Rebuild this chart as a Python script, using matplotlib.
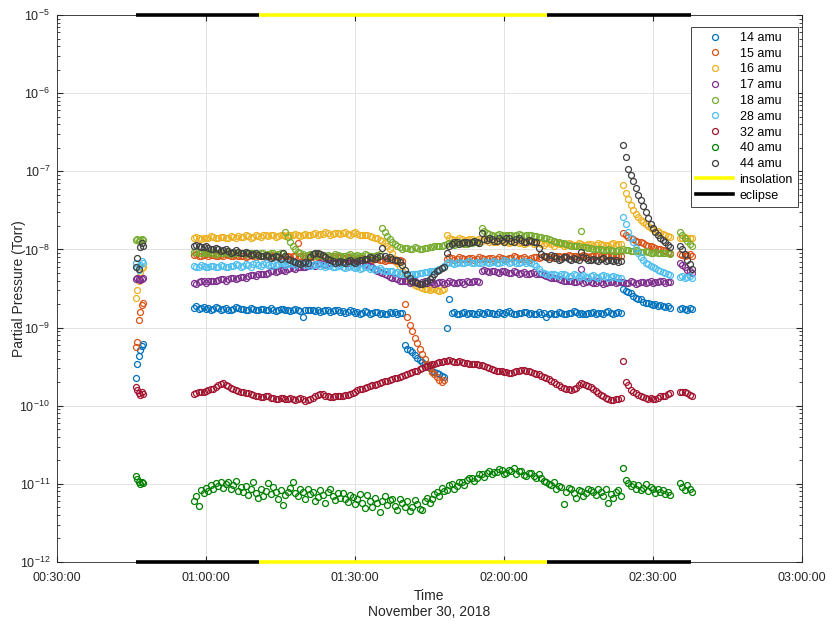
import matplotlib.pyplot as plt
import numpy as np
from matplotlib.lines import Line2D
from matplotlib.ticker import FuncFormatter, LogLocator, NullFormatter

plt.rcParams['font.family'] = ['Liberation Sans', 'DejaVu Sans']

# sample times in minutes after 00:00 (start-up burst, main run, transient, last burst)
t_a = [45.9, 46.2, 46.5, 46.8, 47.1, 47.4]
t_main = np.arange(57.5, 143.75, 0.5)
t_tr = np.arange(144.0, 153.75, 0.5)
t_late = [155.4, 155.9, 156.4, 156.9, 157.4, 157.9]
t = np.concatenate([t_a, t_main, t_tr, t_late])

# log10 of partial pressure (Torr)
amu14 = [-9.64, -9.47, -9.36, -9.29, -9.24, -9.21,
         -8.75, -8.73, -8.76, -8.75, -8.74, -8.76, -8.75, -8.77, -8.76, -8.74,
         -8.75, -8.77, -8.76, -8.75, -8.77, -8.78, -8.76, -8.74, -8.75, -8.76,
         -8.76, -8.78, -8.77, -8.75, -8.76, -8.78, -8.77, -8.76, -8.76, -8.78,
         -8.77, -8.75, -8.78, -8.79, -8.77, -8.76, -8.76, -8.78, -8.77, -8.79,
         -8.78, -8.76, -8.77, -8.79, -8.87, -8.78, -8.78, -8.77, -8.77, -8.79,
         -8.78, -8.80, -8.79, -8.77, -8.78, -8.80, -8.79, -8.78, -8.78, -8.80,
         -8.79, -8.81, -8.80, -8.78, -8.79, -8.81, -8.80, -8.82, -8.81, -8.79,
         -8.80, -8.82, -8.81, -8.80, -8.80, -8.82, -8.81, -8.83, -8.82, -8.80,
         -8.81, -8.80, -8.82, -8.81, -8.81, -9.22, -9.27, -9.29, -9.31, -9.35,
         -9.39, -9.42, -9.44, -9.47, -9.49, -9.52, -9.55, -9.57, -9.58, -9.60,
         -9.62, -9.63, -9.01, -8.64, -8.81, -8.80, -8.82, -8.83, -8.81, -8.80,
         -8.82, -8.81, -8.81, -8.83, -8.82, -8.80, -8.81, -8.82, -8.80, -8.81,
         -8.81, -8.83, -8.82, -8.80, -8.81, -8.82, -8.80, -8.79, -8.81, -8.83,
         -8.82, -8.81, -8.81, -8.80, -8.80, -8.82, -8.81, -8.83, -8.82, -8.80,
         -8.82, -8.81, -8.87, -8.82, -8.81, -8.83, -8.82, -8.80, -8.81, -8.82,
         -8.82, -8.81, -8.81, -8.79, -8.80, -8.82, -8.81, -8.83, -8.82, -8.81,
         -8.81, -8.80, -8.82, -8.81, -8.81, -8.83, -8.80, -8.79, -8.81, -8.82,
         -8.81, -8.80, -8.81,
         -8.50, -8.53, -8.55, -8.56, -8.59, -8.62, -8.63, -8.64, -8.67, -8.69,
         -8.69, -8.70, -8.71, -8.70, -8.72, -8.71, -8.73, -8.74, -8.73, -8.75,
         -8.76, -8.75, -8.76, -8.77, -8.75, -8.76]
amu15 = [-9.25, -9.19, -8.90, -8.80, -8.71, -8.68,
         -8.07, -8.06, -8.08, -8.09, -8.07, -8.06, -8.08, -8.07, -8.07, -8.09,
         -8.08, -8.07, -8.08, -8.06, -8.07, -8.09, -8.08, -8.07, -8.09, -8.08,
         -8.08, -8.10, -8.09, -8.07, -8.08, -8.10, -8.09, -8.08, -8.08, -8.10,
         -8.09, -8.07, -8.08, -8.09, -8.09, -8.11, -8.10, -8.08, -8.09, -8.10,
         -8.08, -8.09, -7.92, -8.08, -8.09, -8.11, -8.10, -8.09, -8.09, -8.11,
         -8.10, -8.08, -8.09, -8.10, -8.10, -8.12, -8.11, -8.09, -8.10, -8.11,
         -8.11, -8.12, -8.10, -8.11, -8.11, -8.13, -8.12, -8.11, -8.11, -8.13,
         -8.12, -8.14, -8.13, -8.12, -8.12, -8.14, -8.13, -8.15, -8.14, -8.13,
         -8.14, -8.15, -8.15, -8.14, -8.15, -8.70, -8.87, -8.97, -9.05, -9.13,
         -9.20, -9.27, -9.34, -9.40, -9.46, -9.52, -9.57, -9.60, -9.63, -9.67,
         -9.70, -9.67, -8.12, -8.10, -8.11, -8.13, -8.12, -8.10, -8.11, -8.12,
         -8.12, -8.11, -8.11, -8.13, -8.12, -8.10, -8.11, -8.12, -8.12, -8.11,
         -8.11, -8.13, -8.12, -8.10, -8.11, -8.12, -8.12, -8.11, -8.11, -8.09,
         -8.10, -8.12, -8.11, -8.10, -8.12, -8.13, -8.11, -8.10, -8.10, -8.11,
         -8.10, -8.08, -8.09, -8.10, -8.10, -8.11, -8.09, -8.08, -8.10, -8.09,
         -8.09, -8.07, -8.08, -8.09, -8.09, -8.10, -8.08, -8.07, -8.09, -8.10,
         -8.08, -8.09, -8.09, -8.07, -8.08, -8.10, -8.09, -8.08, -8.08, -8.07,
         -8.08, -8.09, -8.09,
         -7.79, -7.82, -7.84, -7.85, -7.87, -7.89, -7.90, -7.91, -7.92, -7.94,
         -7.95, -7.96, -7.97, -7.98, -7.99, -8.00, -8.01, -8.02, -8.03, -8.04,
         -8.06, -8.07, -8.08, -8.07, -8.06, -8.08]
amu16 = [-8.62, -8.52, -8.40, -8.29, -8.24, -8.22,
         -7.86, -7.84, -7.85, -7.87, -7.86, -7.85, -7.85, -7.83, -7.84, -7.86,
         -7.85, -7.84, -7.84, -7.86, -7.85, -7.83, -7.84, -7.85, -7.83, -7.84,
         -7.84, -7.82, -7.83, -7.85, -7.84, -7.82, -7.83, -7.84, -7.82, -7.81,
         -7.83, -7.82, -7.82, -7.84, -7.83, -7.81, -7.82, -7.83, -7.81, -7.82,
         -7.82, -7.80, -7.81, -7.83, -7.82, -7.80, -7.81, -7.82, -7.80, -7.79,
         -7.81, -7.80, -7.80, -7.78, -7.79, -7.81, -7.80, -7.79, -7.79, -7.80,
         -7.79, -7.78, -7.80, -7.81, -7.79, -7.78, -7.80, -7.81, -7.81, -7.82,
         -7.82, -7.83, -7.84, -7.85, -7.86, -7.88, -7.89, -7.92, -7.95, -8.00,
         -8.05, -8.12, -8.18, -8.23, -8.28, -8.32, -8.36, -8.40, -8.43, -8.45,
         -8.47, -8.48, -8.49, -8.51, -8.50, -8.52, -8.51, -8.50, -8.52, -8.53,
         -8.52, -8.51, -7.81, -7.86, -7.87, -7.88, -7.88, -7.86, -7.87, -7.89,
         -7.88, -7.87, -7.87, -7.89, -7.88, -7.87, -7.89, -7.88, -7.88, -7.90,
         -7.89, -7.91, -7.90, -7.88, -7.89, -7.91, -7.90, -7.92, -7.91, -7.90,
         -7.90, -7.92, -7.91, -7.93, -7.92, -7.91, -7.91, -7.93, -7.92, -7.91,
         -7.93, -7.94, -7.92, -7.91, -7.93, -7.95, -7.92, -7.93, -7.93, -7.95,
         -7.94, -7.92, -7.93, -7.94, -7.94, -7.92, -7.93, -7.95, -7.94, -7.93,
         -7.93, -7.95, -7.94, -7.92, -7.93, -7.94, -7.94, -7.95, -7.93, -7.92,
         -7.94, -7.93, -7.93,
         -7.18, -7.28, -7.36, -7.43, -7.49, -7.55, -7.59, -7.62, -7.65, -7.68,
         -7.70, -7.72, -7.74, -7.76, -7.77, -7.79, -7.80, -7.81, -7.83, -7.84,
         -7.85, -7.86, -7.84, -7.85, -7.86, -7.85]
amu17 = [-8.38, -8.37, -8.38, -8.39, -8.38, -8.37,
         -8.43, -8.44, -8.42, -8.41, -8.41, -8.43, -8.41, -8.40, -8.40, -8.41,
         -8.39, -8.38, -8.38, -8.40, -8.38, -8.37, -8.37, -8.38, -8.36, -8.35,
         -8.35, -8.36, -8.34, -8.33, -8.33, -8.34, -8.32, -8.31, -8.31, -8.32,
         -8.30, -8.28, -8.28, -8.29, -8.27, -8.26, -8.26, -8.27, -8.25, -8.24,
         -8.24, -8.25, -8.23, -8.22, -8.22, -8.23, -8.21, -8.20, -8.20, -8.21,
         -8.19, -8.18, -8.19, -8.20, -8.18, -8.17, -8.17, -8.18, -8.17, -8.16,
         -8.16, -8.17, -8.17, -8.15, -8.16, -8.18, -8.17, -8.18, -8.18, -8.19,
         -8.20, -8.21, -8.23, -8.25, -8.27, -8.29, -8.30, -8.32, -8.33, -8.35,
         -8.36, -8.37, -8.38, -8.40, -8.40, -8.41, -8.41, -8.43, -8.42, -8.41,
         -8.43, -8.44, -8.42, -8.41, -8.43, -8.42, -8.42, -8.44, -8.43, -8.42,
         -8.42, -8.44, -8.43, -8.41, -8.42, -8.43, -8.43, -8.42, -8.42, -8.44,
         -8.41, -8.42, -8.42, -8.40, -8.41, -8.42, -8.27, -8.26, -8.28, -8.29,
         -8.28, -8.27, -8.29, -8.30, -8.28, -8.27, -8.29, -8.30, -8.30, -8.28,
         -8.29, -8.31, -8.30, -8.29, -8.31, -8.32, -8.30, -8.29, -8.31, -8.32,
         -8.32, -8.33, -8.34, -8.35, -8.36, -8.36, -8.37, -8.38, -8.39, -8.40,
         -8.40, -8.41, -8.41, -8.42, -8.42, -8.41, -8.25, -8.43, -8.42, -8.41,
         -8.42, -8.43, -8.43, -8.41, -8.42, -8.44, -8.43, -8.42, -8.42, -8.41,
         -8.43, -8.42, -8.42,
         -8.42, -8.43, -8.43, -8.41, -8.42, -8.44, -8.43, -8.42, -8.42, -8.43,
         -8.42, -8.41, -8.43, -8.42, -8.42, -8.41, -8.41, -8.43, -8.42, -8.42,
         -8.18, -8.20, -8.23, -8.26, -8.28, -8.30]
amu18 = [-7.88, -7.87, -7.89, -7.88, -7.87, -7.88,
         -8.03, -8.02, -8.04, -8.05, -8.03, -8.04, -8.04, -8.03, -8.04, -8.06,
         -8.05, -8.04, -8.04, -8.03, -8.05, -8.06, -8.04, -8.05, -8.05, -8.04,
         -8.05, -8.06, -8.04, -8.05, -8.05, -8.07, -8.06, -8.05, -8.05, -8.07,
         -8.06, -8.05, -8.05, -8.07, -8.06, -8.05, -8.05, -7.78, -7.84, -7.90,
         -7.95, -7.99, -8.03, -8.05, -8.06, -8.08, -8.07, -8.06, -8.06, -8.08,
         -8.07, -8.06, -8.08, -8.09, -8.07, -8.08, -8.08, -8.06, -8.07, -8.08,
         -8.08, -8.09, -8.07, -8.06, -8.08, -8.09, -8.07, -8.08, -8.08, -8.06,
         -8.07, -8.08, -8.08, -8.09, -8.07, -8.06, -7.73, -7.78, -7.83, -7.87,
         -7.90, -7.93, -7.96, -7.97, -7.99, -7.98, -7.98, -8.00, -7.99, -7.97,
         -7.98, -8.00, -7.99, -7.98, -7.98, -7.97, -7.97, -7.96, -7.96, -7.95,
         -7.95, -7.94, -7.93, -7.92, -7.92, -7.94, -7.93, -7.91, -7.92, -7.93,
         -7.93, -7.92, -7.92, -7.90, -7.91, -7.92, -7.73, -7.76, -7.79, -7.80,
         -7.81, -7.83, -7.82, -7.80, -7.81, -7.83, -7.82, -7.81, -7.81, -7.83,
         -7.82, -7.80, -7.81, -7.83, -7.82, -7.81, -7.82, -7.83, -7.83, -7.84,
         -7.84, -7.85, -7.86, -7.87, -7.88, -7.89, -7.90, -7.91, -7.92, -7.92,
         -7.93, -7.94, -7.95, -7.95, -7.96, -7.96, -7.76, -7.97, -7.97, -7.98,
         -7.98, -7.99, -7.99, -8.00, -8.00, -8.01, -8.01, -8.00, -8.01, -8.02,
         -8.02, -8.01, -8.02,
         -8.00, -8.01, -8.01, -8.02, -8.02, -8.01, -8.02, -8.03, -8.03, -8.02,
         -8.03, -8.04, -8.04, -8.03, -8.04, -8.05, -8.05, -8.04, -8.05, -8.06,
         -7.78, -7.82, -7.86, -7.89, -7.93, -7.96]
amu28 = [-8.17, -8.22, -8.26, -8.20, -8.15, -8.18,
         -8.21, -8.23, -8.22, -8.20, -8.21, -8.23, -8.22, -8.21, -8.21, -8.23,
         -8.22, -8.20, -8.21, -8.23, -8.22, -8.21, -8.21, -8.19, -8.20, -8.22,
         -8.21, -8.19, -8.20, -8.22, -8.19, -8.18, -8.20, -8.21, -8.19, -8.18,
         -8.20, -8.21, -8.19, -8.20, -8.19, -8.17, -8.18, -8.20, -8.19, -8.18,
         -8.18, -8.20, -8.19, -8.17, -8.18, -8.20, -8.19, -8.21, -8.20, -8.19,
         -8.19, -8.21, -8.20, -8.22, -8.21, -8.20, -8.22, -8.23, -8.21, -8.20,
         -8.22, -8.24, -8.23, -8.21, -8.22, -8.24, -8.23, -8.25, -8.24, -8.22,
         -8.23, -8.25, -8.24, -8.26, -8.25, -8.24, -8.26, -8.27, -8.27, -8.28,
         -8.28, -8.30, -8.29, -8.31, -8.30, -8.32, -8.31, -8.33, -8.32, -8.31,
         -8.31, -8.30, -8.30, -8.29, -8.29, -8.28, -8.28, -8.27, -8.26, -8.25,
         -8.24, -8.21, -8.18, -8.16, -8.17, -8.19, -8.18, -8.16, -8.17, -8.18,
         -8.16, -8.15, -8.17, -8.18, -8.16, -8.17, -8.17, -8.15, -8.16, -8.18,
         -8.16, -8.15, -8.17, -8.18, -8.16, -8.14, -8.15, -8.17, -8.16, -8.15,
         -8.17, -8.18, -8.16, -8.15, -8.17, -8.16, -8.18, -8.19, -8.21, -8.25,
         -8.29, -8.30, -8.31, -8.33, -8.32, -8.31, -8.33, -8.34, -8.32, -8.31,
         -8.33, -8.35, -8.34, -8.32, -8.33, -8.35, -8.34, -8.33, -8.35, -8.36,
         -8.34, -8.33, -8.35, -8.36, -8.34, -8.33, -8.34, -8.36, -8.35, -8.34,
         -8.35, -8.37, -8.36,
         -7.59, -7.68, -7.78, -7.85, -7.91, -7.98, -8.04, -8.10, -8.14, -8.17,
         -8.19, -8.21, -8.23, -8.24, -8.26, -8.28, -8.29, -8.30, -8.32, -8.33,
         -8.35, -8.34, -8.36, -8.35, -8.34, -8.36]
amu32 = [-9.76, -9.80, -9.84, -9.86, -9.83, -9.85,
         -9.85, -9.84, -9.83, -9.83, -9.82, -9.81, -9.80, -9.79, -9.78, -9.76,
         -9.74, -9.72, -9.71, -9.73, -9.75, -9.77, -9.79, -9.80, -9.81, -9.82,
         -9.83, -9.84, -9.84, -9.85, -9.86, -9.87, -9.88, -9.89, -9.89, -9.87,
         -9.88, -9.90, -9.90, -9.92, -9.91, -9.90, -9.90, -9.92, -9.91, -9.90,
         -9.92, -9.93, -9.91, -9.90, -9.92, -9.94, -9.93, -9.92, -9.90, -9.88,
         -9.86, -9.85, -9.85, -9.87, -9.88, -9.89, -9.89, -9.87, -9.88, -9.87,
         -9.87, -9.86, -9.86, -9.85, -9.84, -9.82, -9.80, -9.79, -9.78, -9.77,
         -9.76, -9.75, -9.74, -9.73, -9.72, -9.71, -9.70, -9.69, -9.68, -9.67,
         -9.66, -9.65, -9.64, -9.63, -9.62, -9.61, -9.60, -9.58, -9.57, -9.56,
         -9.55, -9.53, -9.52, -9.50, -9.49, -9.48, -9.47, -9.46, -9.45, -9.44,
         -9.44, -9.43, -9.43, -9.42, -9.43, -9.44, -9.44, -9.43, -9.44, -9.45,
         -9.45, -9.46, -9.46, -9.47, -9.47, -9.48, -9.48, -9.49, -9.50, -9.52,
         -9.53, -9.54, -9.55, -9.56, -9.56, -9.57, -9.57, -9.58, -9.58, -9.57,
         -9.56, -9.55, -9.54, -9.54, -9.55, -9.56, -9.57, -9.58, -9.59, -9.60,
         -9.62, -9.63, -9.65, -9.66, -9.68, -9.70, -9.72, -9.74, -9.76, -9.77,
         -9.78, -9.79, -9.80, -9.79, -9.77, -9.74, -9.71, -9.72, -9.73, -9.75,
         -9.76, -9.78, -9.81, -9.84, -9.86, -9.88, -9.90, -9.92, -9.93, -9.93,
         -9.92, -9.91, -9.90,
         -9.43, -9.70, -9.74, -9.80, -9.82, -9.84, -9.86, -9.88, -9.89, -9.90,
         -9.91, -9.90, -9.91, -9.92, -9.90, -9.88, -9.87, -9.88, -9.85, -9.84,
         -9.82, -9.83, -9.83, -9.84, -9.86, -9.87]
amu40 = [-10.90, -10.94, -10.97, -11.00, -10.98, -10.99,
         -11.22, -11.15, -11.28, -11.08, -11.12, -11.05, -11.09, -11.01, -11.06, -10.99,
         -11.03, -10.97, -11.05, -11.00, -10.98, -11.07, -11.02, -10.96, -11.09, -11.04,
         -11.10, -11.03, -11.14, -11.07, -10.97, -11.12, -11.18, -11.06, -11.15, -11.09,
         -10.99, -11.13, -11.04, -11.11, -11.20, -11.08, -11.27, -11.14, -11.10, -11.05,
         -10.98, -11.12, -11.16, -11.06, -11.11, -11.19, -11.06, -11.13, -11.10, -11.22,
         -11.17, -11.08, -11.14, -11.24, -11.11, -11.07, -11.16, -11.21, -11.12, -11.18,
         -11.12, -11.20, -11.23, -11.14, -11.17, -11.26, -11.19, -11.13, -11.25, -11.31,
         -11.14, -11.22, -11.30, -11.18, -11.24, -11.36, -11.22, -11.16, -11.27, -11.21,
         -11.20, -11.28, -11.33, -11.19, -11.24, -11.30, -11.22, -11.35, -11.30, -11.21,
         -11.26, -11.32, -11.33, -11.22, -11.18, -11.25, -11.20, -11.13, -11.10, -11.16,
         -11.05, -11.09, -11.08, -11.01, -11.00, -11.06, -11.03, -10.97, -10.98, -11.02,
         -10.95, -10.92, -10.92, -10.96, -10.93, -10.88, -10.88, -10.91, -10.86, -10.84,
         -10.88, -10.85, -10.85, -10.81, -10.82, -10.87, -10.86, -10.82, -10.83, -10.80,
         -10.87, -10.84, -10.84, -10.89, -10.90, -10.86, -10.86, -10.90, -10.92, -10.88,
         -10.93, -10.96, -10.97, -11.00, -11.02, -10.98, -11.06, -11.03, -11.04, -11.26,
         -11.10, -11.05, -11.07, -11.12, -11.18, -11.08, -11.09, -11.15, -11.12, -11.06,
         -11.08, -11.11, -11.14, -11.07, -11.10, -11.16, -11.06, -11.24, -11.13, -11.18,
         -11.11, -11.08, -11.15,
         -10.80, -10.95, -10.99, -11.03, -11.00, -11.06, -11.02, -11.08, -11.05, -11.00,
         -11.09, -11.04, -11.07, -11.12, -11.06, -11.10, -11.08, -11.13, -11.11, -11.14,
         -10.99, -11.04, -11.08, -11.02, -11.06, -11.10]
amu44 = [-8.23, -8.11, -8.25, -7.97, -7.92, -7.95,
         -7.96, -7.94, -7.95, -7.97, -7.97, -7.96, -7.98, -8.00, -7.99, -7.98,
         -8.00, -8.02, -8.01, -8.00, -8.02, -8.04, -8.03, -8.01, -8.03, -8.05,
         -8.04, -8.03, -8.05, -8.07, -8.06, -8.05, -8.07, -8.09, -8.08, -8.07,
         -8.09, -8.11, -8.10, -8.09, -8.10, -8.12, -8.04, -8.09, -8.12, -8.14,
         -8.15, -8.16, -8.17, -8.19, -8.18, -8.16, -8.17, -8.10, -8.06, -8.04,
         -8.05, -8.06, -8.07, -8.10, -8.12, -8.14, -8.15, -8.17, -8.16, -8.15,
         -8.16, -8.17, -8.15, -8.14, -8.16, -8.17, -8.15, -8.13, -8.14, -8.12,
         -8.12, -8.10, -8.11, -8.12, -8.10, -8.09, -7.98, -8.08, -8.11, -8.10,
         -8.12, -8.13, -8.14, -8.16, -8.20, -8.26, -8.32, -8.37, -8.40, -8.42,
         -8.43, -8.44, -8.44, -8.43, -8.41, -8.38, -8.35, -8.31, -8.28, -8.26,
         -8.24, -8.22, -8.04, -7.96, -7.93, -7.91, -7.91, -7.93, -7.92, -7.90,
         -7.90, -7.92, -7.91, -7.89, -7.90, -7.92, -7.79, -7.87, -7.88, -7.86,
         -7.87, -7.89, -7.89, -7.86, -7.88, -7.90, -7.86, -7.85, -7.89, -7.91,
         -7.87, -7.86, -7.88, -7.90, -7.90, -7.88, -7.89, -7.91, -7.91, -7.98,
         -8.06, -8.08, -8.10, -8.12, -8.07, -8.09, -8.11, -8.13, -8.12, -8.10,
         -8.10, -8.12, -8.13, -8.11, -8.12, -8.14, -8.03, -8.10, -8.11, -8.13,
         -8.13, -8.12, -8.14, -8.15, -8.12, -8.11, -8.15, -8.14, -8.13, -8.15,
         -8.14, -8.16, -8.15,
         -6.66, -6.82, -6.97, -7.05, -7.13, -7.22, -7.30, -7.37, -7.44, -7.52,
         -7.60, -7.67, -7.73, -7.78, -7.82, -7.85, -7.88, -7.91, -7.94, -7.97,
         -7.95, -8.00, -8.06, -8.13, -8.19, -8.25]

names = ['14 amu', '15 amu', '16 amu', '17 amu', '18 amu', '28 amu', '32 amu', '40 amu', '44 amu']
series = [amu14, amu15, amu16, amu17, amu18, amu28, amu32, amu40, amu44]
colors = ['#0072BD', '#D95319', '#EDB120', '#7E2F8E', '#77AC30', '#4DBEEE', '#A2142F', '#008000', '#404040']

# insolation / eclipse periods (minutes)
eclipse = [(45.9, 70.7), (128.6, 157.6)]
insolation = [(70.7, 128.6)]

fig = plt.figure(figsize=(8.33, 6.24), dpi=100)
ax = fig.add_axes([57 / 833, 1 - 562 / 624, 745 / 833, 547 / 624])

handles = []
for vals, c, n in zip(series, colors, names):
    assert len(vals) == len(t), (n, len(vals), len(t))
    h, = ax.plot(t, 10.0 ** np.array(vals), 'o', mfc='none', mec=c, ms=4.3, mew=0.9, label=n)
    handles.append(h)

for y in (1e-5, 1e-12):
    for a, b in insolation:
        ax.plot([a, b], [y, y], color='#FFFF00', lw=2.6, clip_on=False, solid_capstyle='butt', zorder=5)
    for a, b in eclipse:
        ax.plot([a, b], [y, y], color='black', lw=2.6, clip_on=False, solid_capstyle='butt', zorder=5)
handles.append(Line2D([], [], color='#FFFF00', lw=2.6))
handles.append(Line2D([], [], color='black', lw=2.6))
labels = names + ['insolation', 'eclipse']

ax.set_yscale('log')
ax.set_ylim(1e-12, 1e-5)
ax.set_xlim(30, 180)
ax.set_xticks([30, 60, 90, 120, 150, 180])
ax.xaxis.set_major_formatter(FuncFormatter(lambda v, p: '%02d:%02d:00' % (int(v) // 60, int(v) % 60)))
ax.yaxis.set_major_locator(LogLocator(base=10, numticks=20))
ax.yaxis.set_minor_locator(LogLocator(base=10, subs=np.arange(2, 10), numticks=20))
ax.yaxis.set_minor_formatter(NullFormatter())

ax.set_axisbelow(True)
ax.grid(True, which='major', color='#e3e3e3', lw=0.7)
ax.tick_params(which='both', direction='in', top=True, right=True, colors='#262626', labelsize=9)
ax.tick_params(which='major', length=4)
ax.tick_params(which='minor', length=2)
ax.tick_params(axis='x', pad=7)
ax.tick_params(axis='y', pad=5)
for s in ax.spines.values():
    s.set_color('#262626')
    s.set_linewidth(0.6)

ax.set_ylabel('Partial Pressure (Torr)', fontsize=10, color='#262626')
ax.yaxis.set_label_coords(-0.0415, 0.5)
fig.text(429.5 / 833, 1 - 596 / 624, 'Time', ha='center', va='center', fontsize=10, color='#262626')
fig.text(429.5 / 833, 1 - 612 / 624, 'November 30, 2018', ha='center', va='center', fontsize=10, color='#262626')

leg = ax.legend(handles, labels, loc='upper right', bbox_to_anchor=(798 / 833, 1 - 27 / 624),
                bbox_transform=fig.transFigure, borderaxespad=0, fontsize=9, handlelength=3.0,
                handletextpad=0.5, labelspacing=0.3, borderpad=0.4, fancybox=False, framealpha=1)
leg.get_frame().set_edgecolor('#262626')
leg.get_frame().set_linewidth(0.6)

plt.savefig('out.png', dpi=100)
